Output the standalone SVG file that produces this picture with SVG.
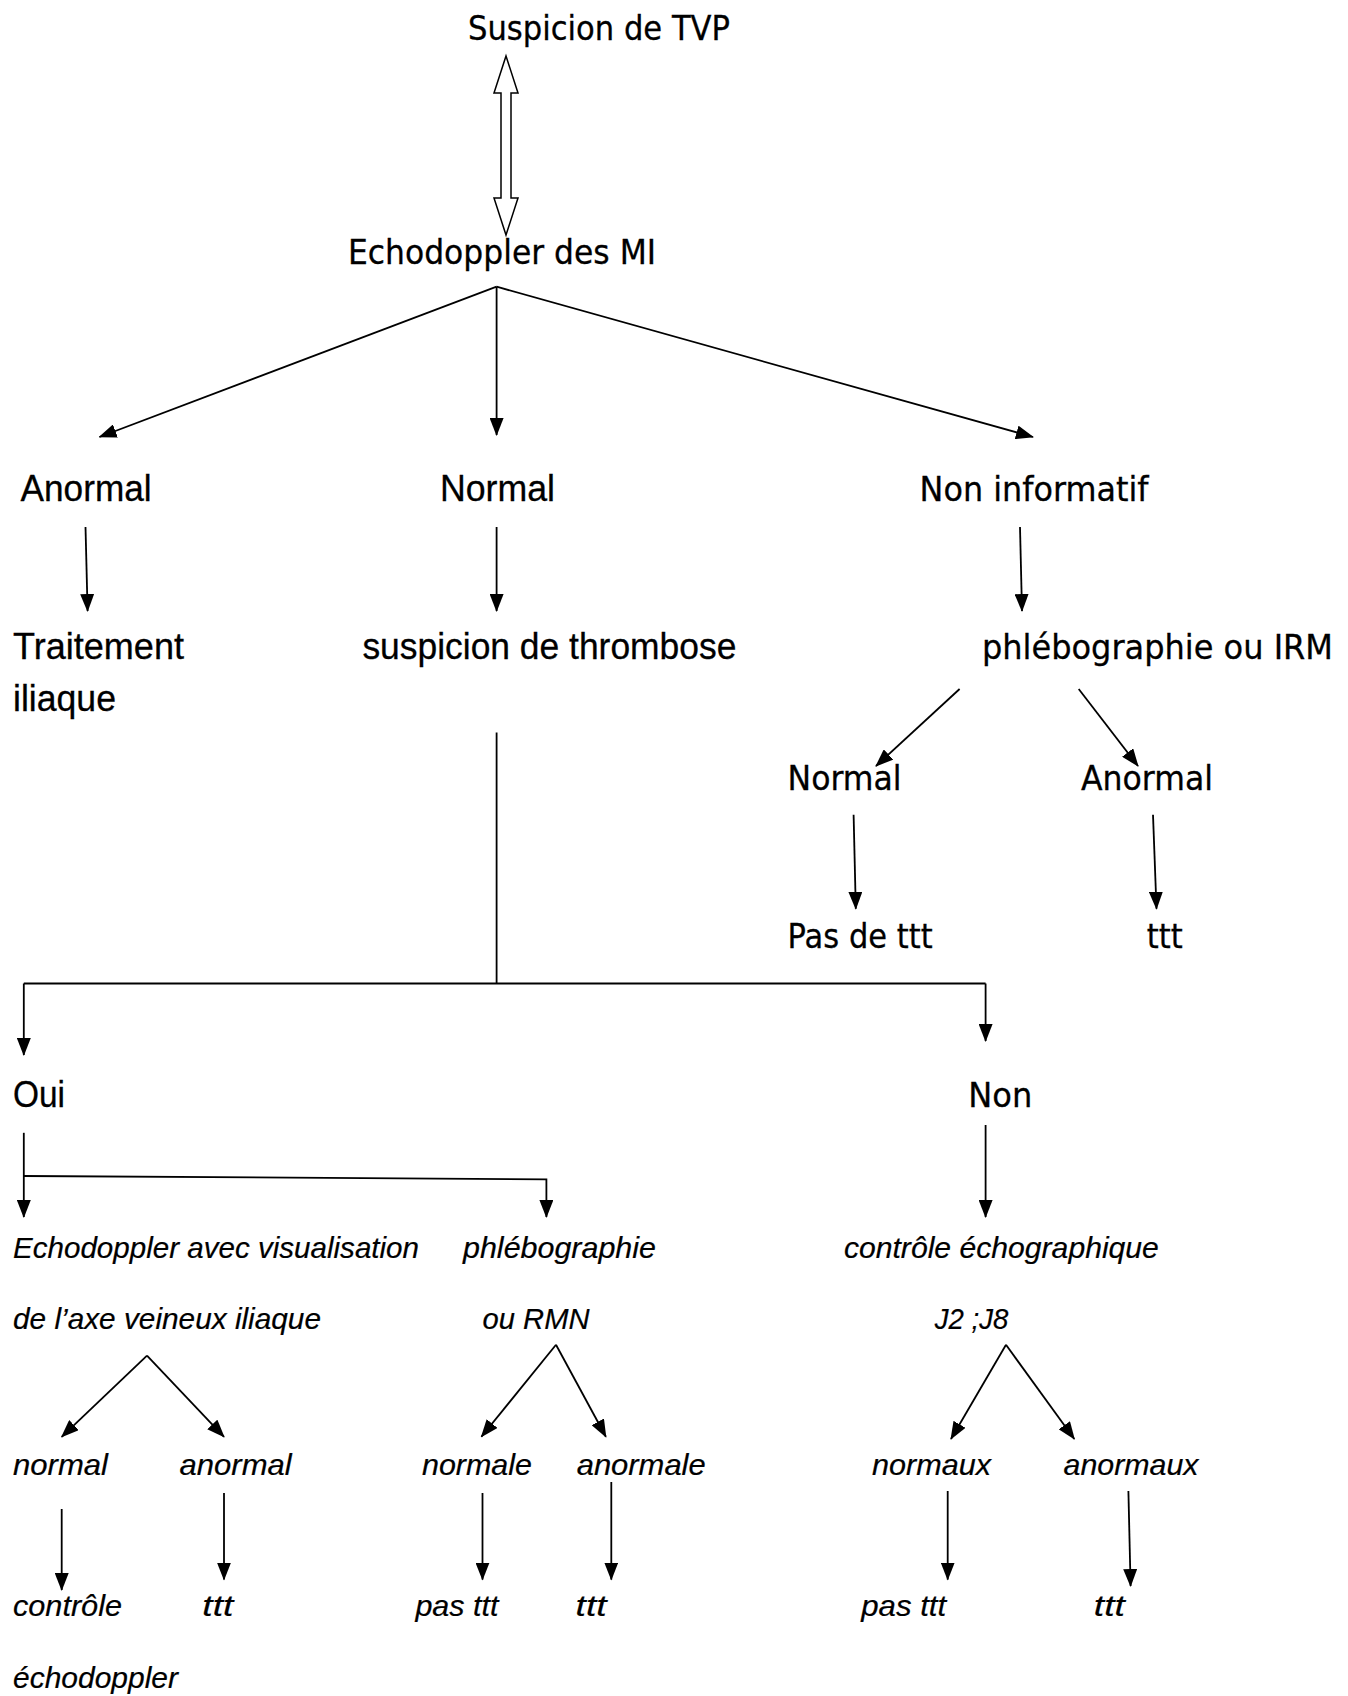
<svg xmlns="http://www.w3.org/2000/svg" width="1348" height="1696" viewBox="0 0 1348 1696">
<defs>
<marker id="ah" viewBox="0 0 18 14" markerWidth="18" markerHeight="14" refX="17" refY="7" orient="auto" markerUnits="userSpaceOnUse"><path d="M0,0 L18,7 L0,14 z" fill="#000"/></marker>
</defs>
<style>
.c{font-family:"Liberation Sans",Arial,sans-serif;font-size:37px;fill:#000;stroke:#000;stroke-width:0.3}
.h{font-family:"DejaVu Sans","Noto Sans",sans-serif;font-size:33px;fill:#000;stroke:#000;stroke-width:0.3}
.i{font-family:"Liberation Sans",Arial,sans-serif;font-style:italic;font-size:29px;fill:#000;stroke:#000;stroke-width:0.2}
.ln{stroke:#000;stroke-width:1.8;fill:none}
.ar{stroke:#000;stroke-width:1.8;fill:none;marker-end:url(#ah)}
</style>
<rect width="1348" height="1696" fill="#fff"/>
<g id="connectors">
<path d="M501,93 L494,93 L506,56 L518,93 L511,93 L511,198 L518,198 L506,235 L494,198 L501,198 Z" fill="#fff" stroke="#000" stroke-width="1.5"/>
<line class="ar" x1="496.6" y1="286.7" x2="99.5" y2="437"/>
<line class="ar" x1="496.6" y1="286.7" x2="496.6" y2="435"/>
<line class="ar" x1="496.6" y1="286.7" x2="1033" y2="437"/>
<line class="ar" x1="85.5" y1="527" x2="87.6" y2="611"/>
<line class="ar" x1="496.6" y1="527" x2="496.6" y2="611"/>
<line class="ar" x1="1020" y1="527" x2="1022" y2="611"/>
<line class="ar" x1="959.6" y1="689" x2="876" y2="766"/>
<line class="ar" x1="1078.7" y1="689" x2="1138" y2="766"/>
<line class="ar" x1="853.6" y1="814.7" x2="855.8" y2="908.8"/>
<line class="ar" x1="1153" y1="814.7" x2="1156.5" y2="908.8"/>
<line class="ln" x1="496.6" y1="732.5" x2="496.6" y2="983.5"/>
<line class="ln" x1="23.8" y1="983.5" x2="985.6" y2="983.5"/>
<line class="ar" x1="23.8" y1="983.5" x2="23.8" y2="1055"/>
<line class="ar" x1="985.6" y1="983.5" x2="985.6" y2="1041"/>
<line class="ar" x1="23.8" y1="1132.8" x2="23.8" y2="1217"/>
<polyline class="ar" points="23.8,1176 546.4,1179.3 546.4,1217"/>
<line class="ar" x1="985.6" y1="1125" x2="985.6" y2="1217"/>
<line class="ar" x1="147" y1="1355.6" x2="61.7" y2="1436.8"/>
<line class="ar" x1="147" y1="1355.6" x2="224" y2="1436.8"/>
<line class="ar" x1="556" y1="1344.8" x2="481.4" y2="1436.8"/>
<line class="ar" x1="556" y1="1344.8" x2="605.9" y2="1436.8"/>
<line class="ar" x1="1006" y1="1344.8" x2="951" y2="1439"/>
<line class="ar" x1="1006" y1="1344.8" x2="1074.3" y2="1439"/>
<line class="ar" x1="61.7" y1="1509" x2="61.7" y2="1590"/>
<line class="ar" x1="224" y1="1493" x2="224" y2="1579.6"/>
<line class="ar" x1="482.5" y1="1493" x2="482.5" y2="1579.6"/>
<line class="ar" x1="611.3" y1="1482" x2="611.3" y2="1579.6"/>
<line class="ar" x1="947.7" y1="1491" x2="947.7" y2="1579.6"/>
<line class="ar" x1="1128.4" y1="1491" x2="1130.6" y2="1586"/>
</g>
<g id="n-suspicion"><text class="h" x="468" y="40" textLength="262" lengthAdjust="spacingAndGlyphs">Suspicion de TVP</text></g>
<g id="n-echodoppler"><text class="h" x="348" y="264" textLength="308" lengthAdjust="spacingAndGlyphs">Echodoppler des MI</text></g>
<g id="n-anormal"><text class="c" x="20.6" y="501" textLength="131" lengthAdjust="spacingAndGlyphs">Anormal</text></g>
<g id="n-normal"><text class="c" x="440" y="501" textLength="115" lengthAdjust="spacingAndGlyphs">Normal</text></g>
<g id="n-noninfo"><text class="h" x="919.6" y="501" textLength="229" lengthAdjust="spacingAndGlyphs">Non informatif</text></g>
<g id="n-traitement"><text class="c" x="13" y="659" textLength="171" lengthAdjust="spacingAndGlyphs">Traitement</text><text class="c" x="13" y="711" textLength="103" lengthAdjust="spacingAndGlyphs">iliaque</text></g>
<g id="n-suspthromb"><text class="c" x="362.4" y="659" textLength="374" lengthAdjust="spacingAndGlyphs">suspicion de thrombose</text></g>
<g id="n-phlebo"><text class="h" x="982" y="659" textLength="351" lengthAdjust="spacingAndGlyphs">phlébographie ou IRM</text></g>
<g id="n-normal2"><text class="h" x="787.6" y="790" textLength="114" lengthAdjust="spacingAndGlyphs">Normal</text></g>
<g id="n-anormal2"><text class="h" x="1081" y="790" textLength="132" lengthAdjust="spacingAndGlyphs">Anormal</text></g>
<g id="n-pasdettt"><text class="h" x="787.6" y="947.7" textLength="145" lengthAdjust="spacingAndGlyphs">Pas de ttt</text></g>
<g id="n-ttt1"><text class="h" x="1146.8" y="947.7" textLength="36" lengthAdjust="spacingAndGlyphs">ttt</text></g>
<g id="n-oui"><text class="c" x="13" y="1106.8" textLength="52" lengthAdjust="spacingAndGlyphs">Oui</text></g>
<g id="n-non"><text class="h" x="968.3" y="1106.8" textLength="64" lengthAdjust="spacingAndGlyphs">Non</text></g>
<g id="n-echovisu"><text class="i" x="13" y="1258" textLength="406" lengthAdjust="spacingAndGlyphs">Echodoppler avec visualisation</text><text class="i" x="13" y="1328.6" textLength="308" lengthAdjust="spacingAndGlyphs">de l’axe veineux iliaque</text></g>
<g id="n-phlebormn"><text class="i" x="463" y="1258" textLength="193" lengthAdjust="spacingAndGlyphs">phlébographie</text><text class="i" x="482.5" y="1328.6" textLength="107" lengthAdjust="spacingAndGlyphs">ou RMN</text></g>
<g id="n-controle"><text class="i" x="843.9" y="1258" textLength="315" lengthAdjust="spacingAndGlyphs">contrôle échographique</text><text class="i" x="934.8" y="1328.6" textLength="73.5" lengthAdjust="spacingAndGlyphs">J2 ;J8</text></g>
<g id="n-normal3"><text class="i" x="13" y="1474.6" textLength="95" lengthAdjust="spacingAndGlyphs">normal</text></g>
<g id="n-anormal3"><text class="i" x="179.6" y="1474.6" textLength="112" lengthAdjust="spacingAndGlyphs">anormal</text></g>
<g id="n-normale"><text class="i" x="422" y="1474.6" textLength="110" lengthAdjust="spacingAndGlyphs">normale</text></g>
<g id="n-anormale"><text class="i" x="576.7" y="1474.6" textLength="129" lengthAdjust="spacingAndGlyphs">anormale</text></g>
<g id="n-normaux"><text class="i" x="872" y="1474.6" textLength="119" lengthAdjust="spacingAndGlyphs">normaux</text></g>
<g id="n-anormaux"><text class="i" x="1063.5" y="1474.6" textLength="135" lengthAdjust="spacingAndGlyphs">anormaux</text></g>
<g id="n-controleecho"><text class="i" x="13" y="1616.4" textLength="109" lengthAdjust="spacingAndGlyphs">contrôle</text><text class="i" x="13" y="1687.8" textLength="165" lengthAdjust="spacingAndGlyphs">échodoppler</text></g>
<g id="n-ttt2"><text class="i" x="202.3" y="1616.4" textLength="31" lengthAdjust="spacingAndGlyphs">ttt</text></g>
<g id="n-pasttt1"><text class="i" x="415.4" y="1616.4" textLength="83" lengthAdjust="spacingAndGlyphs">pas ttt</text></g>
<g id="n-ttt3"><text class="i" x="575.6" y="1616.4" textLength="31" lengthAdjust="spacingAndGlyphs">ttt</text></g>
<g id="n-pasttt2"><text class="i" x="861.2" y="1616.4" textLength="85" lengthAdjust="spacingAndGlyphs">pas ttt</text></g>
<g id="n-ttt4"><text class="i" x="1093.8" y="1616.4" textLength="31" lengthAdjust="spacingAndGlyphs">ttt</text></g>
</svg>
